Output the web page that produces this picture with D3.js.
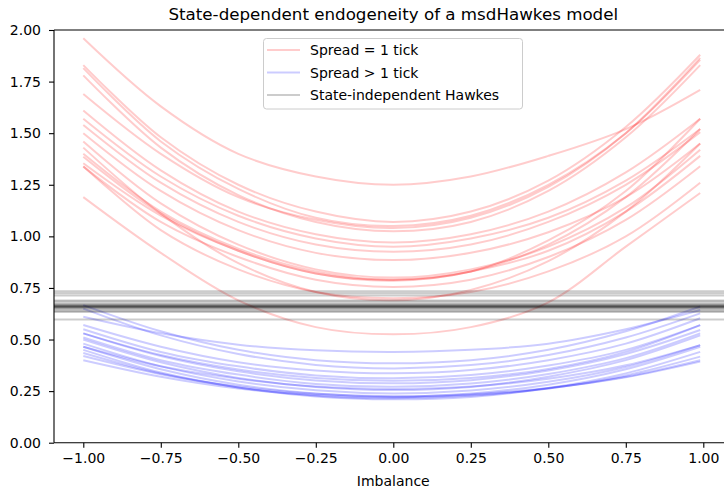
<!DOCTYPE html>
<html>
<head>
<meta charset="utf-8">
<script src="https://cdn.jsdelivr.net/npm/d3@7"></script>
<style>
  html, body { margin: 0; padding: 0; background: #fff; }
  svg { display: block; }
  text { font-family: "DejaVu Sans", sans-serif; fill: #000; }
</style>
</head>
<body>
<script>
// ---------- data ----------
const title = "State-dependent endogeneity of a msdHawkes model";
const xLabel = "Imbalance";
const imbalance = [-1, -0.75, -0.5, -0.25, 0, 0.25, 0.5, 0.75, 0.99];
const xTicks = [-1, -0.75, -0.5, -0.25, 0, 0.25, 0.5, 0.75, 1];
const yTicks = [0, 0.25, 0.5, 0.75, 1, 1.25, 1.5, 1.75, 2];

// Spread = 1 tick (red curves)
const spreadOne = [
  [1.96, 1.63, 1.40, 1.29, 1.25, 1.29, 1.39, 1.52, 1.71],
  [1.83, 1.48, 1.25, 1.12, 1.07, 1.12, 1.27, 1.53, 1.88],
  [1.815, 1.46, 1.23, 1.09, 1.05, 1.10, 1.25, 1.50, 1.855],
  [1.78, 1.43, 1.20, 1.07, 1.025, 1.07, 1.22, 1.48, 1.83],
  [1.69, 1.40, 1.19, 1.08, 1.04, 1.09, 1.24, 1.50, 1.865],
  [1.61, 1.32, 1.12, 1.01, 0.97, 1.01, 1.12, 1.31, 1.57],
  [1.57, 1.29, 1.10, 0.99, 0.95, 0.99, 1.09, 1.27, 1.52],
  [1.54, 1.26, 1.07, 0.96, 0.925, 0.96, 1.07, 1.25, 1.505],
  [1.50, 1.22, 1.03, 0.92, 0.885, 0.92, 1.02, 1.19, 1.45],
  [1.46, 1.16, 0.96, 0.84, 0.80, 0.84, 0.95, 1.14, 1.42],
  [1.40, 1.12, 0.94, 0.83, 0.79, 0.83, 0.98, 1.22, 1.57],
  [1.386, 1.11, 0.93, 0.82, 0.785, 0.83, 0.96, 1.19, 1.52],
  [1.354, 1.10, 0.93, 0.82, 0.79, 0.83, 0.93, 1.12, 1.39],
  [1.338, 1.07, 0.90, 0.79, 0.755, 0.79, 0.90, 1.08, 1.34],
  [1.43, 1.11, 0.87, 0.73, 0.69, 0.74, 0.88, 1.12, 1.45],
  [1.34, 1.03, 0.84, 0.73, 0.70, 0.73, 0.83, 1.00, 1.26],
  [1.19, 0.92, 0.69, 0.56, 0.525, 0.56, 0.68, 0.95, 1.21]
];

// Spread > 1 tick (blue curves)
const spreadMore = [
  [0.61, 0.53, 0.475, 0.448, 0.44, 0.45, 0.48, 0.55, 0.643],
  [0.667, 0.54, 0.45, 0.40, 0.385, 0.40, 0.45, 0.54, 0.66],
  [0.65, 0.52, 0.43, 0.377, 0.36, 0.376, 0.425, 0.51, 0.627],
  [0.57, 0.465, 0.39, 0.35, 0.336, 0.352, 0.40, 0.48, 0.603],
  [0.55, 0.44, 0.37, 0.326, 0.312, 0.328, 0.374, 0.45, 0.57],
  [0.53, 0.42, 0.346, 0.302, 0.288, 0.303, 0.35, 0.43, 0.546],
  [0.51, 0.40, 0.33, 0.285, 0.271, 0.287, 0.333, 0.41, 0.53],
  [0.50, 0.39, 0.314, 0.27, 0.255, 0.27, 0.32, 0.40, 0.52],
  [0.48, 0.37, 0.297, 0.254, 0.239, 0.253, 0.295, 0.367, 0.473],
  [0.465, 0.356, 0.281, 0.238, 0.223, 0.238, 0.281, 0.356, 0.465],
  [0.45, 0.34, 0.268, 0.224, 0.21, 0.222, 0.265, 0.336, 0.44],
  [0.435, 0.335, 0.268, 0.228, 0.215, 0.227, 0.263, 0.326, 0.417],
  [0.42, 0.332, 0.272, 0.237, 0.225, 0.235, 0.265, 0.317, 0.393],
  [0.40, 0.32, 0.263, 0.231, 0.22, 0.231, 0.263, 0.32, 0.40],
  [0.465, 0.37, 0.31, 0.272, 0.26, 0.272, 0.31, 0.375, 0.473],
  [0.53, 0.425, 0.355, 0.314, 0.30, 0.314, 0.357, 0.44, 0.57]
];

// State-independent Hawkes (horizontal levels)
const hawkesLevels = [0.734, 0.724, 0.713, 0.689, 0.684, 0.675, 0.670, 0.666, 0.664,
                      0.662, 0.660, 0.658, 0.657, 0.655, 0.650, 0.645, 0.638, 0.633, 0.597];

const legendLabels = ["Spread = 1 tick", "Spread > 1 tick", "State-independent Hawkes"];

// ---------- layout ----------
const W = 724, H = 492;
const mLeft = 54, mTop = 30, mBottom = 442.7, mRight = 734.3;

const svg = d3.select("body").append("svg").attr("width", W).attr("height", H);

const x = d3.scaleLinear().domain([-1.0945, 1.1]).range([mLeft, mRight]);
const y = d3.scaleLinear().domain([0, 2]).range([mBottom, mTop]);

const line = d3.line()
  .x((d, i) => x(imbalance[i]))
  .y(d => y(d))
  .curve(d3.curveCatmullRom.alpha(0.5));

const plot = svg.append("g");

plot.selectAll("path.red").data(spreadOne).join("path")
  .attr("class", "red")
  .attr("d", line)
  .attr("fill", "none").attr("stroke", "red").attr("stroke-opacity", 0.2)
  .attr("stroke-width", 2);

plot.selectAll("path.blue").data(spreadMore).join("path")
  .attr("class", "blue")
  .attr("d", line)
  .attr("fill", "none").attr("stroke", "blue").attr("stroke-opacity", 0.2)
  .attr("stroke-width", 2);

plot.selectAll("line.hawkes").data(hawkesLevels).join("line")
  .attr("class", "hawkes")
  .attr("x1", mLeft).attr("x2", mRight)
  .attr("y1", d => y(d)).attr("y2", d => y(d))
  .attr("stroke", "black").attr("stroke-opacity", 0.2).attr("stroke-width", 2);

// ---------- axes ----------
const fmt = d3.format(".2f");
const xAxis = svg.append("g").attr("transform", `translate(0,${mBottom})`)
  .call(d3.axisBottom(x).tickValues(xTicks).tickFormat(fmt).tickSize(5).tickPadding(5).tickSizeOuter(0));
const yAxis = svg.append("g").attr("transform", `translate(${mLeft},0)`)
  .call(d3.axisLeft(y).tickValues(yTicks).tickFormat(fmt).tickSize(5).tickPadding(8).tickSizeOuter(0));

[xAxis, yAxis].forEach(g => {
  g.selectAll(".domain").remove();
  g.selectAll(".tick line").attr("stroke", "#000").attr("stroke-width", 1.1);
  g.selectAll(".tick text").attr("font-size", 14).attr("font-family", "DejaVu Sans").attr("fill", "#000");
});

// spines
const spine = svg.append("g").attr("stroke", "#000").attr("stroke-width", 1.1).attr("fill", "none");
spine.append("line").attr("x1", mLeft).attr("x2", mLeft).attr("y1", mTop).attr("y2", mBottom);
spine.append("line").attr("x1", mLeft).attr("x2", mRight).attr("y1", mBottom).attr("y2", mBottom);
spine.append("line").attr("x1", mLeft).attr("x2", mRight).attr("y1", mTop).attr("y2", mTop);
spine.append("line").attr("x1", mRight).attr("x2", mRight).attr("y1", mTop).attr("y2", mBottom);

// title & label
svg.append("text").attr("x", x(0)).attr("y", 19.5).attr("text-anchor", "middle")
  .attr("font-size", 16.7).text(title);
svg.append("text").attr("x", x(0)).attr("y", 486).attr("text-anchor", "middle")
  .attr("font-size", 14).text(xLabel);

// ---------- legend ----------
const legend = svg.append("g");
legend.append("rect").attr("x", 263.5).attr("y", 38.5).attr("width", 259).attr("height", 70.5)
  .attr("rx", 3).attr("fill", "#fff").attr("fill-opacity", 0.8)
  .attr("stroke", "#ccc").attr("stroke-width", 1);
const legendColors = ["red", "blue", "black"];
const legendY = [50, 72.5, 95];
legendLabels.forEach((lab, i) => {
  legend.append("line").attr("x1", 267).attr("x2", 300).attr("y1", legendY[i]).attr("y2", legendY[i])
    .attr("stroke", legendColors[i]).attr("stroke-opacity", 0.2).attr("stroke-width", 2);
  legend.append("text").attr("x", 310).attr("y", legendY[i] + 5).attr("font-size", 14).text(lab);
});
</script>
</body>
</html>
